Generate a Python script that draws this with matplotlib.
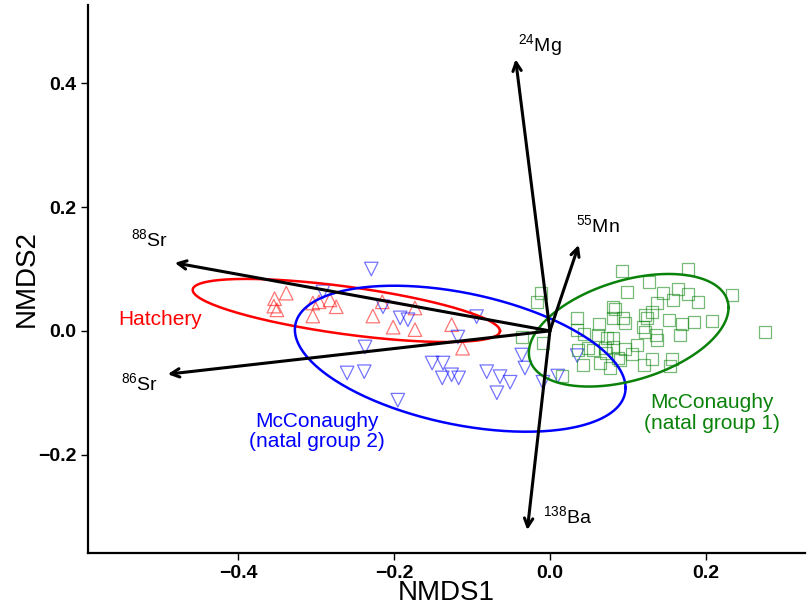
import numpy as np
import matplotlib
matplotlib.use("Agg")
import matplotlib.pyplot as plt

plt.rcParams['font.family'] = ['Liberation Sans', 'DejaVu Sans']
plt.rcParams['mathtext.fontset'] = 'custom'
plt.rcParams['mathtext.rm'] = 'Liberation Sans'
plt.rcParams['mathtext.it'] = 'Liberation Sans'

# site scores (NMDS1, NMDS2)
hatchery_x = [-0.338, -0.353, -0.354, -0.350, -0.304, -0.296, -0.282, -0.274, -0.304,
              -0.215, -0.227, -0.201, -0.173, -0.173, -0.126, -0.112]
hatchery_y = [0.061, 0.052, 0.040, 0.034, 0.045, 0.047, 0.050, 0.039, 0.024,
              0.047, 0.024, 0.006, 0.002, 0.037, 0.010, -0.028]

natal2_x = [-0.229, -0.291, -0.214, -0.192, -0.182, -0.094, -0.118, -0.237, -0.260,
            -0.238, -0.151, -0.137, -0.138, -0.126, -0.117, -0.081, -0.064, -0.051,
            -0.068, -0.195, -0.036, -0.032, 0.035, 0.010, -0.009]
natal2_y = [0.100, 0.063, 0.039, 0.021, 0.018, 0.023, -0.010, -0.026, -0.068,
            -0.066, -0.052, -0.052, -0.076, -0.071, -0.076, -0.066, -0.074, -0.083,
            -0.100, -0.112, -0.039, -0.060, -0.040, -0.073, -0.083]

natal1_x = [0.092, 0.177, 0.127, 0.099, 0.233, 0.145, 0.164, 0.177, 0.190, 0.158,
            0.137, 0.081, 0.083, 0.131, 0.122, 0.124, 0.094, 0.096, 0.081, 0.035,
            0.063, 0.153, 0.169, 0.185, 0.208, 0.119, 0.122, 0.035, 0.044, 0.062,
            0.073, 0.081, 0.136, 0.137, 0.167, 0.276, -0.012, -0.017, -0.036, -0.009,
            0.112, 0.096, 0.105, 0.055, 0.049, 0.071, 0.072, 0.081, 0.036, 0.064,
            0.042, 0.077, 0.087, 0.090, 0.121, 0.131, 0.156, 0.154, 0.015]
natal1_y = [0.097, 0.100, 0.079, 0.063, 0.058, 0.061, 0.068, 0.060, 0.047, 0.050,
            0.045, 0.039, 0.036, 0.031, 0.026, 0.021, 0.021, 0.013, 0.021, 0.021,
            0.011, 0.018, 0.011, 0.015, 0.016, 0.006, -0.002, 0.002, -0.005, -0.006,
            -0.011, -0.011, -0.006, -0.015, -0.006, -0.002, 0.061, 0.047, -0.010, -0.019,
            -0.023, -0.029, -0.037, -0.031, -0.028, -0.028, -0.036, -0.026, -0.031, -0.052,
            -0.055, -0.060, -0.044, -0.047, -0.055, -0.045, -0.045, -0.057, -0.073]

# ellipses: centre, half-range in x and y, and x/y correlation
ell_cx = [-0.261, -0.115, 0.101]
ell_cy = [0.033, -0.045, 0.001]
ell_rx = [0.197, 0.212, 0.128]
ell_ry = [0.051, 0.118, 0.091]
ell_rho = [-0.65, -0.40, 0.40]

# element vectors (envfit arrows)
elements = [r'$^{24}$Mg', r'$^{55}$Mn', r'$^{88}$Sr', r'$^{86}$Sr', r'$^{138}$Ba']
vec_x = [-0.044, 0.037, -0.481, -0.490, -0.029]
vec_y = [0.439, 0.139, 0.110, -0.070, -0.322]
lab_x = [-0.013, 0.062, -0.513, -0.526, 0.023]
lab_y = [0.462, 0.171, 0.148, -0.085, -0.300]

groups = ['Hatchery', 'McConaughy\n(natal group 2)', 'McConaughy\n(natal group 1)']
group_lab_x = [-0.500, -0.299, 0.208]
group_lab_y = [0.019, -0.163, -0.133]
colors = ['#ff0000', '#0000ff', '#0a820a']


def main():
    fig = plt.figure(figsize=(8.09, 6.07), dpi=100)
    ax = fig.add_axes([0.109, 0.089, 0.886, 0.903])

    pts = [(hatchery_x, hatchery_y, '^', 95), (natal2_x, natal2_y, 'v', 95),
           (natal1_x, natal1_y, 's', 75)]
    for (xs, ys, m, s), c in zip(pts, colors):
        ax.scatter(xs, ys, marker=m, s=s, facecolors='none', edgecolors=c,
                   linewidths=0.9, alpha=0.55, zorder=2)

    t = np.linspace(0, 2 * np.pi, 300)
    for cx, cy, rx, ry, rho, c in zip(ell_cx, ell_cy, ell_rx, ell_ry, ell_rho, colors):
        ax.plot(cx + rx * np.cos(t), cy + ry * np.cos(t + np.arccos(rho)),
                color=c, lw=1.8, zorder=3)

    for vx, vy in zip(vec_x, vec_y):
        ax.annotate('', xy=(vx, vy), xytext=(0, 0),
                    arrowprops=dict(arrowstyle='->,head_length=0.6,head_width=0.3',
                                    color='black', lw=2.2, shrinkA=0, shrinkB=0),
                    zorder=4)
    for name, lx, ly in zip(elements, lab_x, lab_y):
        ax.text(lx, ly, name, fontsize=14, ha='center', va='center', zorder=5)

    for g, gx, gy, c in zip(groups, group_lab_x, group_lab_y, colors):
        ax.text(gx, gy, g, fontsize=15, color=c, ha='center', va='center',
                linespacing=1.1, zorder=5)

    ax.set_xlim(-0.592, 0.327)
    ax.set_ylim(-0.359, 0.527)
    ax.set_xticks([-0.4, -0.2, 0.0, 0.2])
    ax.set_yticks([-0.2, 0.0, 0.2, 0.4])
    ax.set_xticklabels(['\u22120.4', '\u22120.2', '0.0', '0.2'])
    ax.set_yticklabels(['\u22120.2', '0.0', '0.2', '0.4'])
    ax.tick_params(labelsize=14, width=1.0, length=5, colors='black')
    for lbl in ax.get_xticklabels() + ax.get_yticklabels():
        lbl.set_fontweight('bold')

    for side in ['top', 'right']:
        ax.spines[side].set_visible(False)
    for side in ['left', 'bottom']:
        ax.spines[side].set_linewidth(1.6)

    ax.set_xlabel('NMDS1', fontsize=20, labelpad=-1)
    ax.set_ylabel('NMDS2', fontsize=20, labelpad=-1)

    fig.savefig('out.png', dpi=100)


if __name__ == "__main__":
    main()
